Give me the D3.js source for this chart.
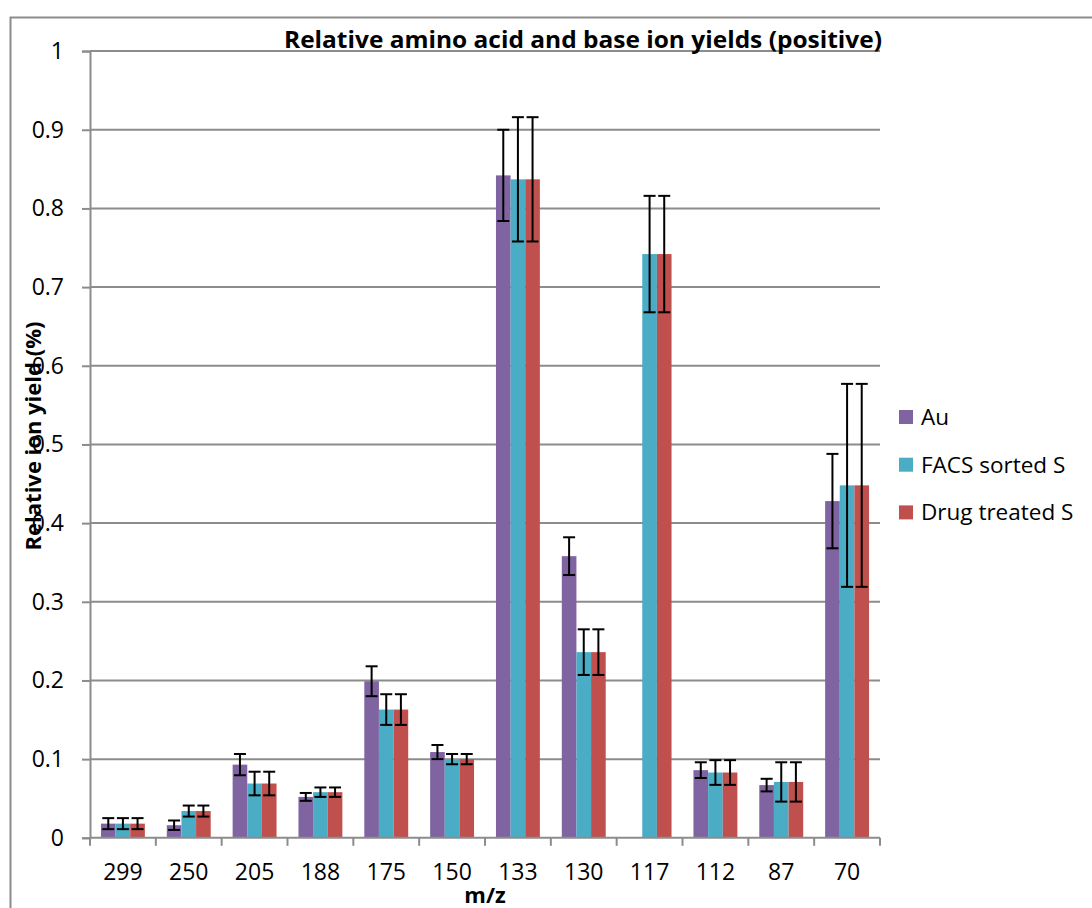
<!DOCTYPE html>
<html>
<head>
<meta charset="utf-8">
<script src="https://cdn.jsdelivr.net/npm/d3@7"></script>
<style>
  html, body { margin: 0; padding: 0; background: #fff; }
  svg { display: block; font-family: "Open Sans", "Liberation Sans", sans-serif; }
</style>
</head>
<body>
<svg id="chart" width="1092" height="908"></svg>
<script>
// m/z categories along the x axis
const categories = ["299", "250", "205", "188", "175", "150", "133", "130", "117", "112", "87", "70"];

// Series names and colours
const seriesNames = ["Au", "FACS sorted S", "Drug treated S"];
const seriesColors = ["#8064A2", "#4BACC6", "#C0504D"];

// Mean relative ion yields per series
const auValues   = [0.018, 0.016, 0.093, 0.052, 0.199, 0.109, 0.842, 0.358, 0.001, 0.086, 0.067, 0.428];
const facsValues = [0.018, 0.034, 0.069, 0.058, 0.163, 0.100, 0.837, 0.236, 0.742, 0.083, 0.071, 0.448];
const drugValues = [0.018, 0.034, 0.069, 0.058, 0.163, 0.100, 0.837, 0.236, 0.742, 0.083, 0.071, 0.448];

// Error bar half-widths per series
const auErrors   = [0.007, 0.006, 0.0135, 0.005, 0.019, 0.009, 0.058, 0.024, 0, 0.010, 0.008, 0.060];
const facsErrors = [0.007, 0.007, 0.015, 0.006, 0.0195, 0.0065, 0.079, 0.029, 0.074, 0.0157, 0.025, 0.129];
const drugErrors = [0.007, 0.007, 0.015, 0.006, 0.0195, 0.0065, 0.079, 0.029, 0.074, 0.0157, 0.025, 0.129];

// Y axis tick values
const yTicks = [0, 0.1, 0.2, 0.3, 0.4, 0.5, 0.6, 0.7, 0.8, 0.9, 1];

const seriesValues = [auValues, facsValues, drugValues];
const seriesErrors = [auErrors, facsErrors, drugErrors];

const svg = d3.select("#chart");
const plot = { left: 90, right: 880, top: 51.1, bottom: 837.8 };

// Outer chart frame
svg.append("rect")
  .attr("x", 10.5).attr("y", 17.5)
  .attr("width", 1200).attr("height", 1000)
  .attr("fill", "none").attr("stroke", "#8c8c8c").attr("stroke-width", 2);

const x = d3.scaleBand().domain(categories).range([plot.left, plot.right]).padding(0);
const groupWidth = x.bandwidth() * 0.667;
const xInner = d3.scaleBand().domain(d3.range(seriesNames.length))
  .range([0, groupWidth]).padding(0);
const y = d3.scaleLinear().domain([0, 1]).range([plot.bottom, plot.top]);

const gridColor = "#8c8c8c";

// Horizontal gridlines
svg.append("g").selectAll("line").data(yTicks.filter(d => d > 0)).join("line")
  .attr("x1", plot.left).attr("x2", plot.right)
  .attr("y1", d => y(d)).attr("y2", d => y(d))
  .attr("stroke", gridColor).attr("stroke-width", 2);

// Y axis
const yAxis = svg.append("g")
  .attr("transform", `translate(${plot.left},0)`)
  .call(d3.axisLeft(y).tickValues(yTicks).tickSize(8).tickPadding(18)
    .tickFormat(d => d3.format("~g")(d)));
yAxis.select(".domain").attr("stroke", gridColor).attr("stroke-width", 2);
yAxis.selectAll(".tick line").attr("stroke", gridColor).attr("stroke-width", 2);
yAxis.selectAll(".tick text")
  .attr("font-size", 23).attr("fill", "#000")
  .attr("font-family", "'Open Sans', sans-serif");

// Bars
const groups = svg.append("g").selectAll("g").data(categories).join("g")
  .attr("transform", d => `translate(${x(d) + (x.bandwidth() - groupWidth) / 2},0)`);

groups.selectAll("rect")
  .data((c, i) => seriesValues.map((vals, s) => ({ s, v: vals[i] })))
  .join("rect")
  .attr("x", d => xInner(d.s))
  .attr("width", xInner.bandwidth())
  .attr("y", d => y(d.v))
  .attr("height", d => y(0) - y(d.v))
  .attr("fill", d => seriesColors[d.s]);

// Error bars
const capHalf = 6;
const errData = (c, i) => seriesValues.map((vals, s) => ({ s, v: vals[i], e: seriesErrors[s][i] }))
  .filter(d => d.e > 0);
const errG = groups.selectAll("g.err").data(errData).join("g").attr("class", "err")
  .attr("stroke", "#000").attr("stroke-width", 2);
errG.append("line")
  .attr("x1", d => xInner(d.s) + xInner.bandwidth() / 2)
  .attr("x2", d => xInner(d.s) + xInner.bandwidth() / 2)
  .attr("y1", d => y(d.v - d.e)).attr("y2", d => y(d.v + d.e));
errG.append("line")
  .attr("x1", d => xInner(d.s) + xInner.bandwidth() / 2 - capHalf)
  .attr("x2", d => xInner(d.s) + xInner.bandwidth() / 2 + capHalf)
  .attr("y1", d => y(d.v + d.e)).attr("y2", d => y(d.v + d.e));
errG.append("line")
  .attr("x1", d => xInner(d.s) + xInner.bandwidth() / 2 - capHalf)
  .attr("x2", d => xInner(d.s) + xInner.bandwidth() / 2 + capHalf)
  .attr("y1", d => y(d.v - d.e)).attr("y2", d => y(d.v - d.e));

// X axis line with boundary ticks
const xAxis = svg.append("g");
xAxis.append("line")
  .attr("x1", plot.left).attr("x2", plot.right)
  .attr("y1", y(0)).attr("y2", y(0))
  .attr("stroke", gridColor).attr("stroke-width", 2);
const boundaries = categories.map(c => x(c)).concat([plot.right]);
xAxis.selectAll("line.tk").data(boundaries).join("line").attr("class", "tk")
  .attr("x1", d => d).attr("x2", d => d)
  .attr("y1", y(0)).attr("y2", y(0) + 8)
  .attr("stroke", gridColor).attr("stroke-width", 2);
xAxis.selectAll("text").data(categories).join("text")
  .attr("x", d => x(d) + x.bandwidth() / 2)
  .attr("y", 880)
  .attr("text-anchor", "middle")
  .attr("font-size", 23)
  .text(d => d);

// Titles
svg.append("text")
  .attr("x", 583).attr("y", 48)
  .attr("text-anchor", "middle")
  .attr("font-size", 23).attr("font-weight", "bold")
  .attr("textLength", 598).attr("lengthAdjust", "spacingAndGlyphs")
  .text("Relative amino acid and base ion yields (positive)");

svg.append("text")
  .attr("x", 485).attr("y", 903)
  .attr("text-anchor", "middle")
  .attr("font-size", 22).attr("font-weight", "bold")
  .text("m/z");

svg.append("text")
  .attr("transform", "translate(41,436) rotate(-90)")
  .attr("text-anchor", "middle")
  .attr("font-size", 22).attr("font-weight", "bold")
  .text("Relative ion yield (%)");

// Legend
const legend = svg.append("g").selectAll("g").data(seriesNames).join("g")
  .attr("transform", (d, i) => `translate(899,${417 + i * 47.7})`);
legend.append("rect")
  .attr("x", 0).attr("y", -7).attr("width", 14).attr("height", 14)
  .attr("fill", (d, i) => seriesColors[i]);
legend.append("text")
  .attr("x", 22).attr("y", 8)
  .attr("font-size", 22.5)
  .text(d => d);
</script>
</body>
</html>
